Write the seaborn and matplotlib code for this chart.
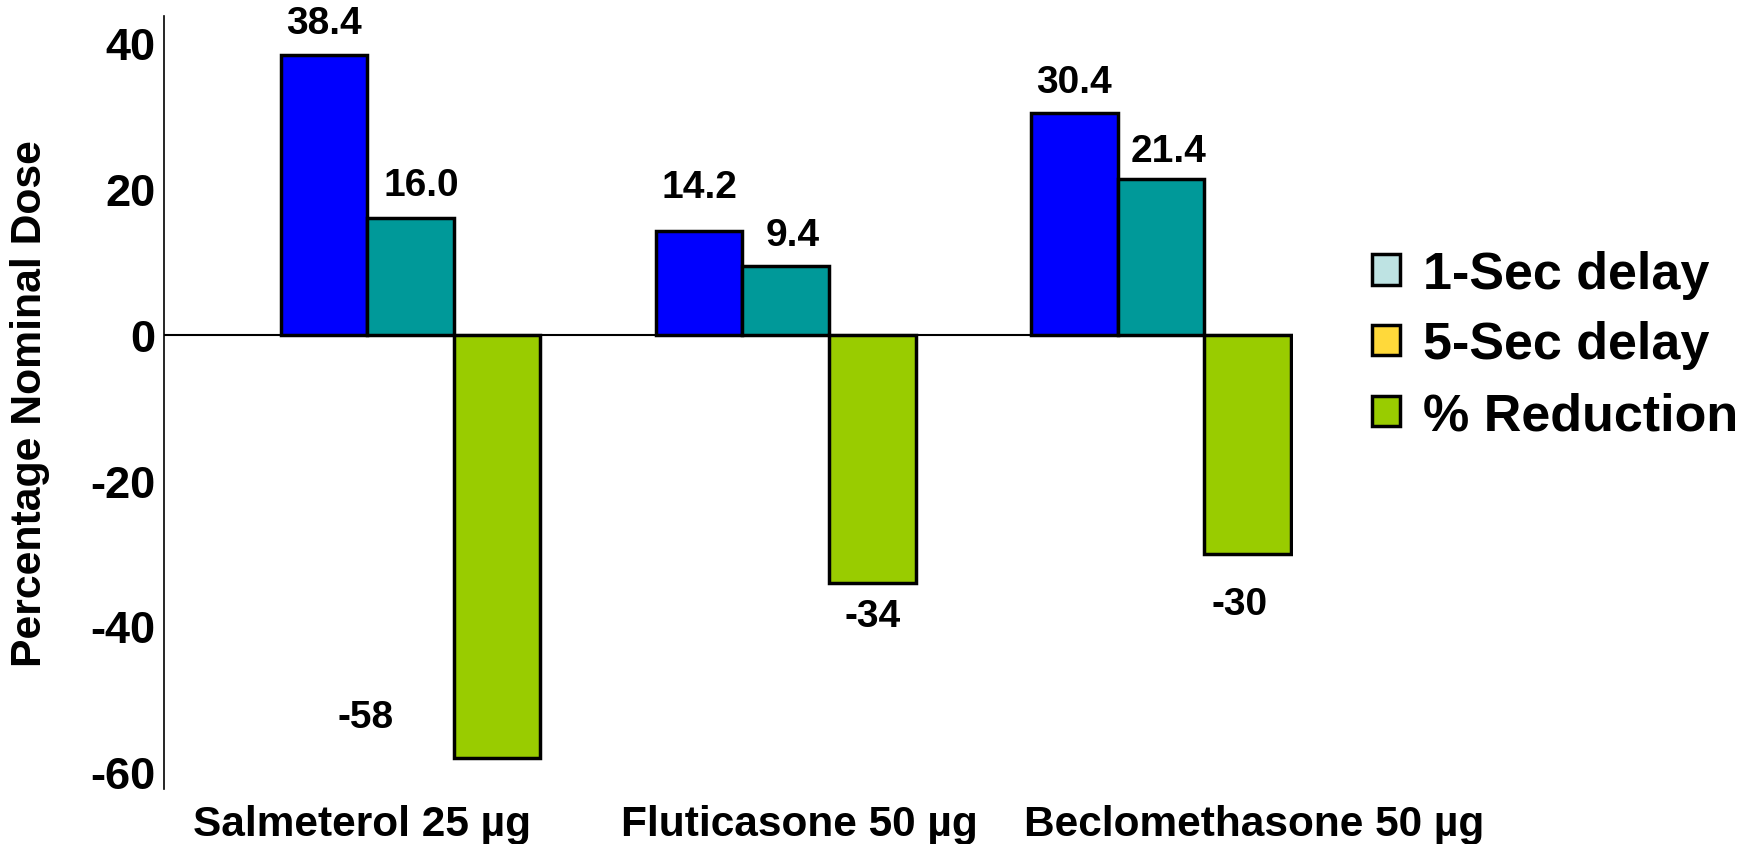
import numpy as np
import pandas as pd
import matplotlib
matplotlib.use("Agg")
import matplotlib.pyplot as plt
import seaborn as sns
from matplotlib.patches import Patch
from matplotlib.transforms import ScaledTranslation

# ---- data ----
drugs = ["Salmeterol 25 µg", "Fluticasone 50 µg", "Beclomethasone 50 µg"]
series = ["1-Sec delay", "5-Sec delay", "% Reduction"]
one_sec = [38.4, 14.2, 30.4]
five_sec = [16.0, 9.4, 21.4]
reduction = [-58, -34, -30]
yticks = [-60, -40, -20, 0, 20, 40]

# ---- styles ----
bar_colors = ["#0000FF", "#009999", "#99CC00"]
legend_colors = ["#BEE3E3", "#FFD93A", "#99CC00"]
label_fmt = ["{:.1f}", "{:.1f}", "{:.0f}"]
# per-label offsets in pixels (dx, dy)
label_offsets = [
    [(0, 32), (0, 44), (0, 31)],
    [(11, 33), (7, 31), (8, 28)],
    [(-131, 41), (0, -33), (-8, -50)],
]
xtick_dx = [-49, 14, 93]

sns.set_style("white")
plt.rcParams["font.family"] = ["Liberation Sans", "DejaVu Sans"]
plt.rcParams["font.weight"] = "bold"
for k in ["text.color", "axes.labelcolor", "xtick.color", "ytick.color"]:
    plt.rcParams[k] = "black"

df = pd.DataFrame({
    "drug": drugs * 3,
    "series": [s for s in series for _ in drugs],
    "value": one_sec + five_sec + reduction,
})

fig = plt.figure(figsize=(17.4, 8.45), dpi=100)
ax = fig.add_axes([164 / 1740, 1 - 790 / 845, (1293 - 164) / 1740, (790 - 16.6) / 845])

sns.barplot(data=df, x="drug", y="value", hue="series", order=drugs,
            hue_order=series, palette=bar_colors, width=0.692,
            edgecolor="black", linewidth=2.5, saturation=1, legend=False,
            errorbar=None, ax=ax)

ax.set_xlim(-0.657, 2.352)
ax.set_ylim(-62.3, 43.8)
ax.axhline(0, color="black", lw=1.5, zorder=0.5)

for s in ["top", "right", "bottom"]:
    ax.spines[s].set_visible(False)
ax.spines["left"].set_color("black")
ax.spines["left"].set_linewidth(1.2)

ax.set_yticks(yticks)
ax.set_yticklabels([str(t) for t in yticks], fontsize=32.5, fontweight="bold")
ax.tick_params(axis="y", length=0, pad=6)
ax.tick_params(axis="x", length=0, pad=11)
ax.set_xticks(range(len(drugs)))
ax.set_xticklabels(drugs, fontsize=30.5, fontweight="bold")
for lab, dx in zip(ax.get_xticklabels(), xtick_dx):
    lab.set_transform(lab.get_transform() + ScaledTranslation(dx / 100, 0, fig.dpi_scale_trans))
ax.set_xlabel("")

ax.set_ylabel("Percentage Nominal Dose", fontsize=30.8, fontweight="bold")
ax.yaxis.set_label_coords(-0.101, 0.5)

for i, cont in enumerate(ax.containers):
    for j, bar in enumerate(cont):
        x = bar.get_x() + bar.get_width() / 2
        h = bar.get_height()
        dx, dy = label_offsets[i][j]
        ax.annotate(label_fmt[i].format(h), (x, h), xytext=(dx, dy),
                    textcoords="offset pixels", ha="center", va="center",
                    fontsize=28, fontweight="bold")

handles = [Patch(facecolor=c, edgecolor="black", linewidth=2.5) for c in legend_colors]
fig.legend(handles, series, loc="center left",
           bbox_to_anchor=(1372 / 1740, 1 - 346 / 845), frameon=False,
           prop={"size": 37.5, "weight": "bold"}, handlelength=0.53,
           handleheight=0.53, handletextpad=0.45, labelspacing=0.42,
           borderpad=0, borderaxespad=0)

fig.savefig("out.png", dpi=100)
